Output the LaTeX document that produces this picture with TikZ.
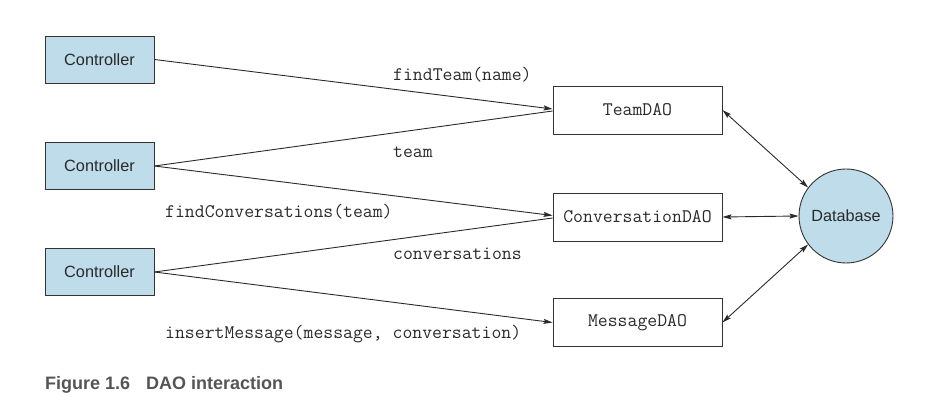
\documentclass[tikz,border=0pt]{standalone}
\usepackage{fontspec}
\setmainfont{Liberation Sans}
\newfontfamily\capf{Liberation Sans}
\usetikzlibrary{arrows.meta}
\definecolor{boxblue}{HTML}{BEDCEA}
\definecolor{edge}{HTML}{333333}
\definecolor{txt}{HTML}{2A2A2A}
\definecolor{capgray}{HTML}{555555}
\newcommand\monof{\ttfamily}
\tikzset{
  ctrl/.style={draw=edge, line width=0.9pt, fill=boxblue, minimum width=109pt, minimum height=47pt, inner sep=0pt, font=\fontsize{16.3}{18}\selectfont, text=txt},
  dao/.style={draw=edge, line width=0.9pt, fill=white, minimum width=169pt, minimum height=48pt, inner sep=0pt, font=\monof\fontsize{19.2}{20}\selectfont, text=txt},
  dbnode/.style={circle, draw=edge, line width=0.9pt, fill=boxblue, minimum size=94pt, inner sep=0pt, font=\fontsize{16.2}{18}\selectfont, text=txt},
  conn/.style={draw=txt, line width=0.9pt},
  tip/.style={-{Stealth[length=9pt,width=5pt,inset=1.5pt]}},
  both/.style={{Stealth[length=9pt,width=5pt,inset=1.5pt]}-{Stealth[length=9pt,width=5pt,inset=1.5pt]}},
  lbl/.style={anchor=base west, inner sep=0pt, font=\monof\fontsize{19.2}{20}\selectfont, text=txt},
  caption/.style={anchor=base west, inner sep=0pt, font=\capf\bfseries\fontsize{18}{20}\selectfont, text=capgray}
}
\begin{document}
\begin{tikzpicture}[x=1pt,y=-1pt]
\useasboundingbox (0,0) rectangle (932,403);
\node[ctrl] (c1) at (99.5,59.5) {Controller};
\node[ctrl] (c2) at (99.5,166) {Controller};
\node[ctrl] (c3) at (99.5,272) {Controller};
\node[dao] (team) at (637.5,110) {TeamDAO};
\node[dao] (conv) at (637.5,217) {ConversationDAO};
\node[dao] (msg) at (637.5,322.5) {MessageDAO};
\node[dbnode] (db) at (846,216) {Database};

\draw[conn,tip] (c1.east) -- ([yshift=1pt]team.west);
\draw[conn] ([yshift=-1pt]team.west) -- (c2.east);
\draw[conn,tip] (c2.east) -- ([yshift=1.5pt]conv.west);
\draw[conn] ([yshift=-1pt]conv.west) -- (c3.east);
\draw[conn,tip] (c3.east) -- (msg.west);

\draw[conn,both] (team.east) -- (db.143);
\draw[conn,both] (conv.east) -- (db.west);
\draw[conn,both] (msg.east) -- (db.217);

\node[lbl] (l1) at (393,81) {findTeam(name)};
\node[lbl] (l2) at (393,158) {team};
\node[lbl] (l3) at (165,218) {findConversations(team)};
\node[lbl] (l4) at (393,260) {conversations};
\node[lbl] (l5) at (165,339) {insertMessage(message, conversation)};
\node[caption] (cap) at (45,389) {Figure 1.6\hspace{16pt}DAO interaction};
\end{tikzpicture}
\end{document}
